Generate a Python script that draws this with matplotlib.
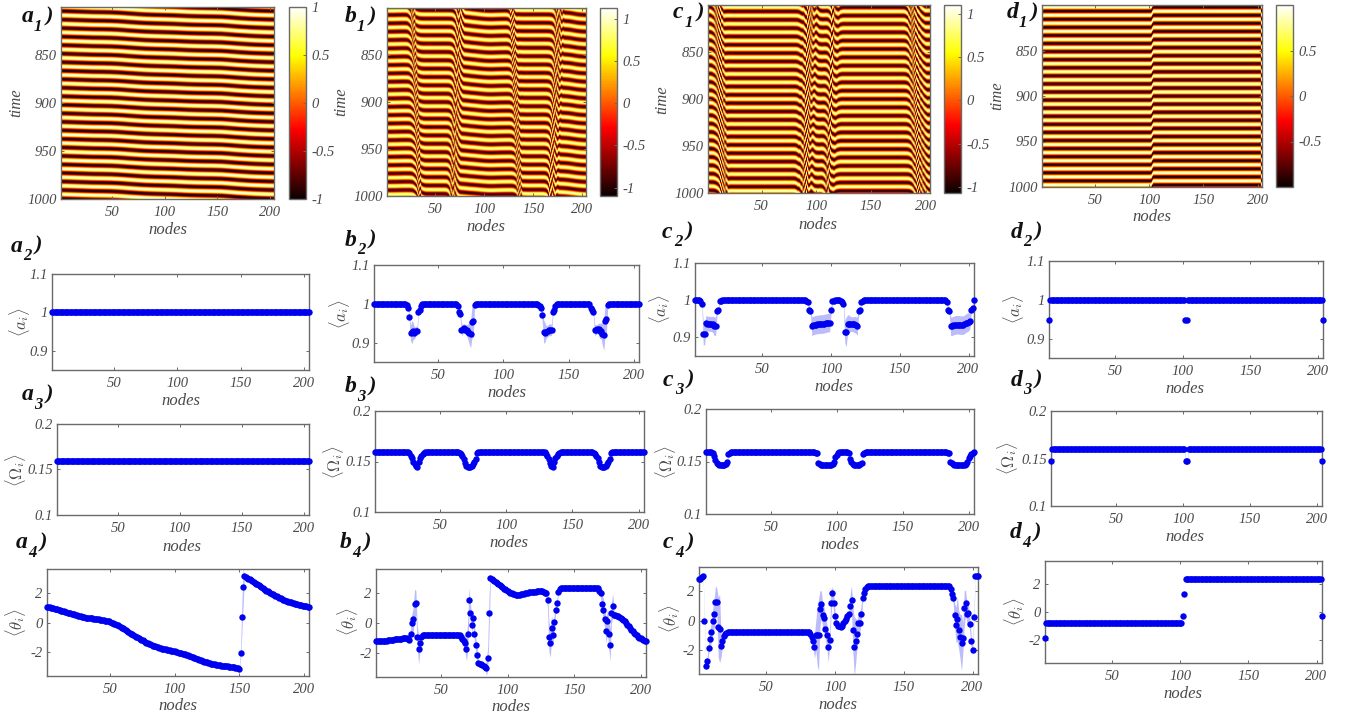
import numpy as np
import matplotlib
matplotlib.use("Agg")
import matplotlib.pyplot as plt

W, H = 1357, 724
plt.rcParams.update({
    "font.family": ["Liberation Serif", "DejaVu Serif"],
    "font.style": "italic",
    "mathtext.fontset": "cm",
    "axes.unicode_minus": False,
})
INK = "#4a4a4a"
EDGE = "#6a6a6a"
BLUE = "#0000f0"
BAND = "#bcbcfb"

# ---------- values (node 1..204) ----------
NODE_TICKS = [50, 100, 150, 200]
TIME_TICKS = [850, 900, 950, 1000]
TIME_LABELS = ["850", "900", "950", "1000"]
A_TICKS = [0.9, 1.0, 1.1]
A_LABELS = ["0.9", "1", "1.1"]
W_TICKS = [0.1, 0.15, 0.2]
W_LABELS = ["0.1", "0.15", "0.2"]
T_TICKS = [-2, 0, 2]
T_LABELS = ["-2", "0", "2"]

a_amp = [1.0] * 204
a_amp_sd = [0.003] * 204
a_freq = [0.159] * 204
a_theta = [1.05, 1.03, 1.01, 0.99, 0.97, 0.95, 0.93, 0.90, 0.88, 0.85,
           .83, .80, .78, .75, .72, .70, .67, .65, .62, .60,
           .57, .54, .52, .49, .47, .45, .42, .40, .38, .35,
           .33, .31, .30, .29, .28, .27, .26, .25, .24, .22,
           .21, .20, .18, .16, .14, .12, .11, .10, .07, .03,
           -.01, -.05, -.08, -.11, -.15, -.2, -.25, -.3, -.35, -.4,
           -.46, -.52, -.58, -.64, -.7, -.75, -.8, -.85, -.9, -.95,
           -1.0, -1.06, -1.11, -1.16, -1.21, -1.26, -1.3, -1.35, -1.4, -1.45,
           -1.48, -1.52, -1.55, -1.58, -1.61, -1.64, -1.67, -1.69, -1.72, -1.75,
           -1.77, -1.79, -1.81, -1.83, -1.85, -1.87, -1.89, -1.91, -1.93, -1.95,
           -1.97, -2.0, -2.02, -2.04, -2.07, -2.09, -2.12, -2.14, -2.17, -2.2,
           -2.23, -2.27, -2.3, -2.34, -2.37, -2.41, -2.44, -2.48, -2.51, -2.55,
           -2.58, -2.61, -2.64, -2.67, -2.69, -2.71, -2.74, -2.76, -2.78, -2.8,
           -2.82, -2.84, -2.85, -2.87, -2.88, -2.9, -2.91, -2.92, -2.94, -2.95,
           -2.96, -2.97, -2.98, -2.99, -3.0, -3.02, -3.04, -3.06, -3.08, -3.1,
           -2.05, .35, 2.4, 3.1, 3.06, 3.0, 2.95, 2.9, 2.85, 2.8,
           2.74, 2.68, 2.62, 2.56, 2.5, 2.44, 2.38, 2.32, 2.26, 2.2,
           2.15, 2.1, 2.05, 2.0, 1.95, 1.9, 1.86, 1.81, 1.76, 1.7,
           1.66, 1.62, 1.58, 1.54, 1.5, 1.47, 1.44, 1.41, 1.38, 1.35,
           1.32, 1.29, 1.27, 1.24, 1.22, 1.2, 1.17, 1.15, 1.12, 1.1,
           1.09, 1.08, 1.06, 1.05]
a_theta_sd = [.04] * 150 + [.4, 1.0, 1.2, .1] + [.04] * 50

b_amp = ([1.0] * 25
         + [.997, .99, .965, .925, .927, .93, .925, .93, .93, .98, .985, .995]
         + [1.0] * 27
         + [.995, .98, .975, .933, .935, .937, .933, .932, .927, .925, .922, .952, .955, .998]
         + [.999] * 48
         + [.998, .995, .99, .97, .928, .926, .928, .93, .933, .933, .933, .98, .985, .995]
         + [1.0] * 26
         + [.99, .985, .98, .933, .933, .935, .935, .93, .93, .922, .92, .955, .96, .998]
         + [1.0] * 24)
b_amp_sd = ([.002] * 25
            + [.003, .005, .01, .02, .03, .022, .015, .012, .012, .01, .005, .003]
            + [.002] * 27
            + [.005, .01, .01, .015, .012, .012, .012, .015, .02, .03, .035, .04, .04, .01]
            + [.002] * 48
            + [.003, .005, .01, .02, .03, .025, .015, .015, .015, .015, .015, .01, .005, .003]
            + [.002] * 26
            + [.005, .01, .01, .015, .012, .012, .015, .02, .02, .03, .04, .04, .04, .01]
            + [.002] * 24)
b_freq = ([.159] * 26
          + [.158, .155, .153, .15, .148, .146, .145, .15, .153, .155, .157, .158]
          + [.159] * 25
          + [.159, .158, .157, .155, .152, .149, .146, .145, .145, .145, .146, .148, .15, .152, .158]
          + [.159] * 51
          + [.157, .155, .152, .149, .146, .145, .15, .153, .155, .157, .158]
          + [.159] * 25
          + [.158, .157, .155, .153, .15, .146, .145, .145, .145, .146, .148, .15, .152, .158]
          + [.159] * 25)
b_theta = ([-1.22, -1.22, -1.22, -1.21, -1.2, -1.2, -1.19, -1.18, -1.17, -1.16,
            -1.14, -1.12, -1.11, -1.1, -1.08, -1.07, -1.06, -1.05, -1.05, -1.04,
            -1.03, -1.02, -1.0, -1.0, -1.06]
           + [-1.15, -.75, 0, .25, 1.25, 1.35, -.9, -1.75, -1.35, -.9, -.82]
           + [-.8] * 28
           + [-.9, -1.05, -1.2, -1.35, -1.75, -.75, 1.55, .7, -.1, .35, -.7, -1.45, -2.1,
              -2.65, -2.7, -2.75, -2.8, -2.85, -2.95, -3.0, -2.35, .65, 3.0]
           + [2.95, 2.9, 2.82, 2.75, 2.68, 2.6, 2.52, 2.45, 2.38, 2.3,
              2.24, 2.18, 2.12, 2.06, 2.02, 1.98, 1.94, 1.92, 1.9, 1.9,
              1.9, 1.9, 1.92, 1.94, 1.96, 1.98, 2.0, 2.02, 2.04, 2.06,
              2.07, 2.08, 2.09, 2.1, 2.11, 2.12, 2.13, 2.14, 2.12, 2.08, 2.03]
           + [2.0, 1.55, -.9, -1.3, -.3, -.8, .1, .9, 1.35, 2.05, 2.25]
           + [2.32] * 28
           + [2.36, 2.15, 2.0, 1.3, .9, .3, -.55, .15, -.75, -1.45, .7, 1.15, .55]
           + [.52, .5, .46, .42, .36, .3, .22, .12, .02, -.1, -.2, -.32, -.44, -.55, -.65, -.74,
              -.82, -.9, -.97, -1.03, -1.08, -1.13, -1.17, -1.2])
b_theta_sd = ([.03] * 24
              + [.05, .1, .4, .6, .8, 1.0, .8, .7, 1.0, .6, .2, .05]
              + [.03] * 28
              + [.1, .2, .4, .6, .8, 1.0, .8, .6, .5, .5, .5, .5, .5, .2, .1, .1, .1, .1, .1, .5, .8, 1.2, .3]
              + [.03] * 41
              + [.3, .6, 1.0, 1.0, .8, .7, .5, .3, .3, .1, .05]
              + [.03] * 28
              + [.1, .2, .4, .6, .7, .7, .8, .8, 1.0, 1.1, .7, .8, .3]
              + [.03] * 24)

c_amp = ([1.0, 1.0, 1.0, 1.0, .998, .99, .91, .91, .938, .937, .937, .936, .936, .935, .93, .93,
          .97, .975, .997, .999, 1.0, 1.0]
         + [1.0] * 59
         + [.998, .995, .975, .972, .93, .932, .933, .934, .935, .935, .936, .936, .936, .937,
            .938, .939, .94, .94, .975, .997, .999, 1.0, 1.0, 1.0, 1.0, .998, .995, .99, .915,
            .915, .935, .936, .936, .936, .935, .935, .933, .93, .97, .975, .995, .999]
         + [1.0] * 59
         + [1.0, .995, .975, .972, .93, .93, .932, .933, .934, .934, .934, .933, .933, .933,
            .935, .938, .94, .942, .943, .975, .978, 1.0])
c_amp_sd = ([.002, .002, .002, .002, .003, .01, .03, .03, .022, .02, .02, .02, .02, .022, .025,
             .025, .01, .006, .003, .002, .002, .002]
            + [.001] * 59
            + [.002, .005, .01, .01] + [.025] * 14
            + [.01, .005, .002, .002, .002, .002, .002, .003, .005, .01, .03, .04, .025, .025,
               .02, .02, .02, .022, .022, .025, .012, .006, .003, .002]
            + [.001] * 59
            + [.001, .005, .01, .01] + [.025] * 14 + [.02, .01, .005, .002])
c_freq = ([.159, .159, .159, .159, .159, .158, .155, .151, .149, .148, .147, .147, .147, .147,
           .147, .148, .15, .157, .158, .159, .159, .159]
          + [.159] * 59
          + [.159, .159, .158, .158, .149, .148, .147, .147, .147, .147, .147, .147, .147, .147,
             .147, .148, .15, .154, .156, .158, .159, .159, .159, .159, .159, .159, .159, .158,
             .152, .15, .148, .147, .147, .147, .147, .147, .148, .149, .157, .158, .159, .159]
          + [.159] * 59
          + [.159, .158, .158, .15, .149, .148, .147, .147, .147, .147, .147, .147, .147, .147,
             .147, .148, .15, .153, .155, .157, .158, .159])
c_theta = ([2.78, 2.8, 2.9, 3.0, 0, -3.05, -2.7, -1.85, -1.25, -.75, 0, .45, 1.25, 1.25, -.45,
            -.55, -1.7, -1.4, -1.05, -.92, -.85, -.8]
           + [-.8] * 59
           + [-.9, -1.1, -1.4, -1.75, -1.0, -1.0, -.95, .8, 1.1, .35, .2, -.6, -1.0, -1.8, -1.3,
              1.15, 1.85, 1.15, .3, -.2, -.35, -.4, -.45, -.35, -.2, -.05, .1, .3, .45, 1.0, 1.4,
              -.65, -1.75, -1.35, -.9, -.15, -.15, .45, 1.5, 1.85, 2.1, 2.28]
           + [2.33] * 59
           + [2.3, 2.1, 1.8, 1.5, .35, -.3, .1, -.65, -1.1, -1.5, -1.15, .85, 1.2, .45, .5, -.25,
              -1.35, -2.0, .25, 3.0, 3.0, 3.0])
c_theta_sd = ([.05, .05, .05, .1, .3, .1, .3, .4, .6, .7, .8, 1.0, 1.1, .9, 2.0, 2.3, .8, .4, .2,
               .1, .05, .03]
              + [.02] * 59
              + [.1, .2, .4, .8, 1.0, 2.0, 2.4, 1.2, .9, .8, .7, .7, .8, 1.0, .5, .9, .4, .7, .3]
              + [.1] * 10
              + [.8, .95, 1.5, 2.0, 1.5, .9, .8, .7, .6, .3, .2, .1, .05]
              + [.02] * 59
              + [.05, .1, .2, .4, .8, 1.2, 1.5, 1.3, 1.5, 1.9, 1.0, 1.2, .8, .7, .6, .5, .4, .3,
                 .4, .1, .05, .05])

d_amp = [.948] + [1.0] * 100 + [.948, .948] + [1.0] * 100 + [.948]
d_amp_sd = [.001] * 204
d_freq = [.147] + [.16] * 100 + [.147, .147] + [.16] * 100 + [.147]
d_theta = [-1.85] + [-.8] * 100 + [-.3, 1.25] + [2.3] * 100 + [-.3]
d_theta_sd = [.01] * 204
freq_sd = [.0015] * 204

# space-time plots: nodes where the averaged phase passes the +-pi wrap, then the
# incoherent bands seen there: centre node, half width, cycles of phase wound
# across the band, drift in nodes per 100 time units
a_wrap_nodes, a_bands = [151, 152, 153], []
b_wrap_nodes, b_bands = [85, 86], [(30, 3.0, 3.5, 3.5), (71, 3.0, 3.5, -3.5), (133, 2.6, 3.5, 4.0), (172, 3.0, 3.5, -4.0)]
c_wrap_nodes, c_bands = [5, 201], [(11, 3.5, 4.0, 2.5), (91, 3.5, 4.0, -2.0), (113, 3.0, 3.0, -2.5), (192, 3.5, 4.0, 3.0)]
d_wrap_nodes, d_bands = [], []
STRIPE_PERIOD = 8.9
cbar_limits = {"a": (-1, 1), "b": (-1.1, 1.13), "c": (-1.07, 1.1), "d": (-1, 1)}
cbar_ticks = {"a": [-1, -.5, 0, .5, 1], "b": [-1, -.5, 0, .5, 1],
              "c": [-1, -.5, 0, .5, 1], "d": [-.5, 0, .5]}

series = {
    "a": (a_amp, a_amp_sd, a_freq, a_theta, a_theta_sd, a_wrap_nodes, a_bands),
    "b": (b_amp, b_amp_sd, b_freq, b_theta, b_theta_sd, b_wrap_nodes, b_bands),
    "c": (c_amp, c_amp_sd, c_freq, c_theta, c_theta_sd, c_wrap_nodes, c_bands),
    "d": (d_amp, d_amp_sd, d_freq, d_theta, d_theta_sd, d_wrap_nodes, d_bands),
}

# ---------- layout in reference pixels: x0, x1, y0, y1 ----------
boxes = {
    "a": [(61, 274, 7, 199), (52, 309, 274, 370), (57, 309, 424, 515), (47, 309, 569, 676)],
    "b": [(387, 586, 8, 196), (374, 639, 265, 362), (375, 644, 411, 512), (376, 646, 569, 677)],
    "c": [(708, 930, 5, 193), (695, 974, 263, 356), (706, 974, 409, 514), (699, 978, 567, 674)],
    "d": [(1042, 1262, 5, 187), (1049, 1323, 261, 358), (1051, 1322, 411, 506), (1045, 1322, 561, 663)],
}
cbars = {"a": (289, 306, 7, 199), "b": (600, 617, 8, 196), "c": (944, 961, 5, 193), "d": (1276, 1293, 5, 187)}
xlabel_at = {
    "a": [(168, 230), (181, 401), (182, 547), (178, 706)],
    "b": [(486, 227), (507, 393), (509, 543), (511, 707)],
    "c": [(818, 225), (834, 387), (840, 545), (838, 705)],
    "d": [(1152, 217), (1185, 389), (1185, 537), (1183, 694)],
}
ylabel_at = {
    "a": [(16, 103), (20, 322), (15, 470), (15, 623)],
    "b": [(341, 102), (340, 314), (334, 462), (347, 622)],
    "c": [(662, 100), (660, 309), (665, 462), (669, 619)],
    "d": [(997, 96), (1014, 309), (1008, 458), (1015, 612)],
}
tag_at = {
    "a": [(22, 17), (11, 246), (22, 395), (16, 543)],
    "b": [(345, 17), (345, 240), (345, 387), (340, 543)],
    "c": [(673, 13), (662, 232), (663, 380), (663, 543)],
    "d": [(1007, 13), (1011, 232), (1011, 380), (1010, 533)],
}
row_names = ["time", r"$\langle a_i\rangle$", r"$\langle \Omega_i\rangle$", r"$\langle \theta_i\rangle$"]


def add_axes(fig, box):
    x0, x1, y0, y1 = box
    return fig.add_axes([x0 / W, 1 - y1 / H, (x1 - x0) / W, (y1 - y0) / H])


def dress(ax):
    for s in ax.spines.values():
        s.set_color(EDGE)
        s.set_linewidth(1.0)
    ax.tick_params(direction="in", length=2, width=0.7, color=EDGE, labelcolor=INK,
                   labelsize=10.5, top=True, right=True, pad=5)
    ax.tick_params(axis="y", pad=3)


def fig_text(fig, px, py, s, **kw):
    return fig.text(px / W, 1 - py / H, s, ha=kw.pop("ha", "center"), va="center", color=kw.pop("color", INK), **kw)


def add_tag(fig, px, py, letter, digit):
    style = dict(ha="left", color="#111111", fontweight="bold", fontstyle="italic")
    fig_text(fig, px, py, letter, fontsize=17, **style)
    fig_text(fig, px + 12, py + 10, digit, fontsize=12, **style)
    fig_text(fig, px + 24, py - 1, ")", fontsize=16, **style)


def space_time(theta, wrap_nodes, bands):
    nodes = np.arange(1, len(theta) + 1)
    keep = ~np.isin(nodes, wrap_nodes)
    phase = np.unwrap(np.array(theta)[keep])
    times = np.arange(800, 1000.5, 0.5)
    grid_n, grid_t = np.meshgrid(nodes, times)
    warp = grid_n.astype(float)
    for centre, half, cycles, speed in bands:
        warp -= speed * (grid_t - 900) / 100 * np.exp(-((grid_n - centre) / 16.0) ** 2)
    local = np.interp(warp, nodes[keep], phase)
    for centre, half, cycles, speed in bands:
        local -= 2 * np.pi * cycles * 0.5 * (1 + np.tanh((warp - centre) / half))
    return np.cos(2 * np.pi * grid_t / STRIPE_PERIOD + local)


fig = plt.figure(figsize=(W / 100, H / 100), dpi=100)

for key, (amp, amp_sd, freq, theta, theta_sd, wrap, bands) in series.items():
    nodes = np.arange(1, len(theta) + 1)

    ax = add_axes(fig, boxes[key][0])
    vmin, vmax = cbar_limits[key]
    im = ax.imshow(space_time(theta, wrap, bands),
                   cmap="hot", vmin=vmin, vmax=vmax, aspect="auto",
                   extent=[1, 204, 1000, 800], interpolation="bilinear")
    ax.set_xticks(NODE_TICKS)
    ax.set_yticks(TIME_TICKS, TIME_LABELS)
    dress(ax)

    cax = add_axes(fig, cbars[key])
    cb = fig.colorbar(im, cax=cax)
    cb.set_ticks(cbar_ticks[key], labels=[f"{t:g}" for t in cbar_ticks[key]])
    cb.outline.set_edgecolor(EDGE)
    cb.outline.set_linewidth(1.0)
    cax.tick_params(direction="in", length=2, width=0.7, color=EDGE, labelcolor=INK, labelsize=10.5, pad=4)

    rows = [(amp, amp_sd, (0.85, 1.1), A_TICKS, A_LABELS),
            (freq, freq_sd, (0.1, 0.2), W_TICKS, W_LABELS),
            (theta, theta_sd, (-3.6, 3.6), T_TICKS, T_LABELS)]
    for i, (vals, sd, ylim, ticks, labels) in enumerate(rows, start=1):
        ax = add_axes(fig, boxes[key][i])
        v, s = np.array(vals), np.array(sd)
        ax.fill_between(nodes, v - s, v + s, color=BAND, lw=0, zorder=1)
        ax.plot(nodes, v, "o", ms=4.6, mec="none", color=BLUE, clip_on=False, zorder=3)
        ax.set_xlim(1, 204)
        ax.set_ylim(*ylim)
        ax.set_xticks(NODE_TICKS)
        ax.set_yticks(ticks, labels)
        dress(ax)

    for i in range(4):
        fig_text(fig, *xlabel_at[key][i], "nodes", fontsize=12)
        fig_text(fig, *ylabel_at[key][i], row_names[i], fontsize=12, rotation=90)
        add_tag(fig, *tag_at[key][i], key, str(i + 1))

fig.savefig("out.png", dpi=100)
